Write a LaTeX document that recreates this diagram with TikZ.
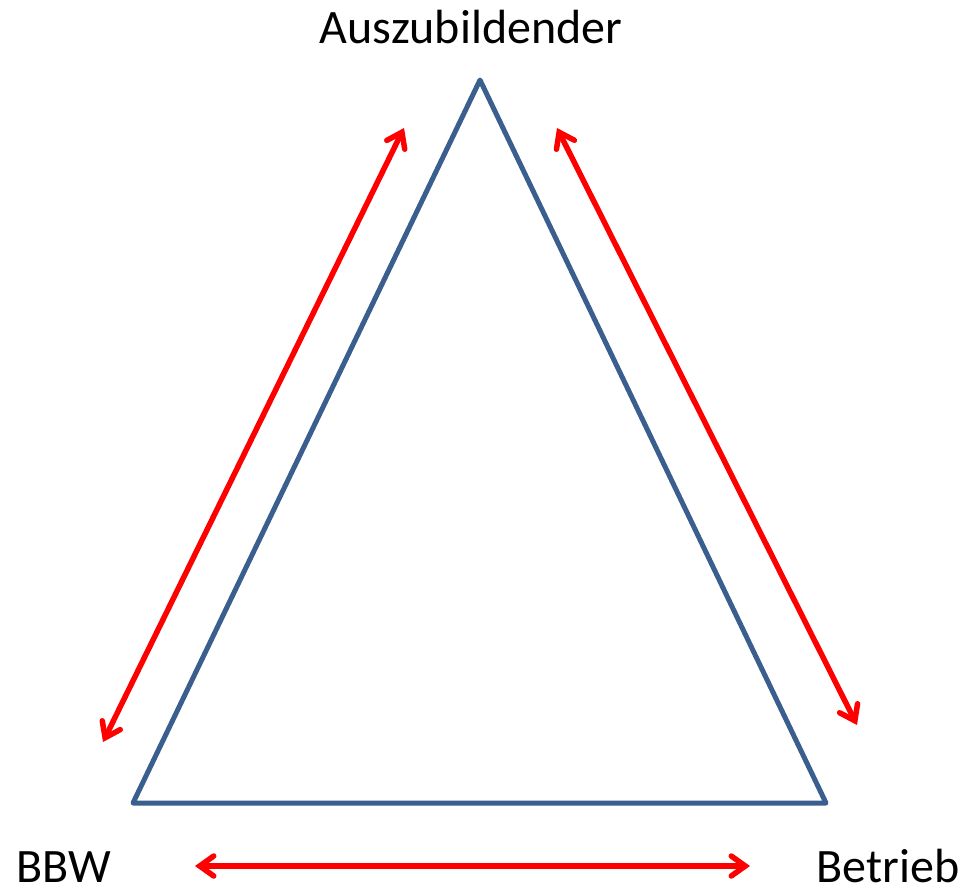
\documentclass[tikz,border=0pt]{standalone}
\usepackage{fontspec}
\setmainfont{Carlito}
\usetikzlibrary{arrows.meta}
\definecolor{edgeblue}{HTML}{3A5E8E}
\definecolor{linkred}{HTML}{FF0000}
\begin{document}
\begin{tikzpicture}[x=1pt,y=-1pt,
  side/.style={draw=edgeblue,line width=5pt,line join=round,line cap=round},
  link/.style={draw=linkred,line width=5.5pt,line cap=round,
    {Straight Barb[length=14pt,width=20pt,line cap=round]}-{Straight Barb[length=14pt,width=20pt,line cap=round]}},
  label/.style={font=\fontsize{48}{52}\selectfont,inner sep=0pt,text depth=0pt,anchor=base}]
\useasboundingbox (0,0) rectangle (965,894);
% corners of the triangle
\coordinate (top) at (480,80);
\coordinate (bl) at (133,803);
\coordinate (br) at (826,803);
\draw[side] (top) -- (bl) -- (br) -- cycle;
% vertex labels
\node[label] (azubi) at (471,43) {Auszubildender};
\node[label] (bbw) at (64,882) {BBW};
\node[label] (betrieb) at (888,882) {Betrieb};
% relations between the parties
\coordinate (l1) at (103,742);
\coordinate (l2) at (404,128);
\coordinate (r1) at (557,128);
\coordinate (r2) at (857,725);
\coordinate (b1) at (195,866);
\coordinate (b2) at (750,866);
\draw[link] (l1) -- (l2);
\draw[link] (r1) -- (r2);
\draw[link] (b1) -- (b2);
\end{tikzpicture}
\end{document}
